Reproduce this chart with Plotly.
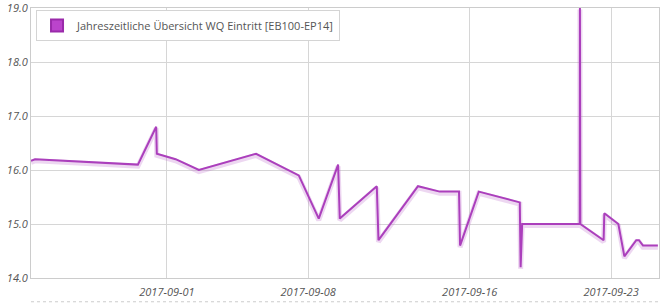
import plotly.graph_objects as go

times = [
    "2017-08-25 06:25", "2017-08-25 11:15", "2017-08-30 13:30", "2017-08-31 11:15",
    "2017-08-31 12:00", "2017-09-01 10:20", "2017-09-02 14:00", "2017-09-05 10:00",
    "2017-09-07 12:45", "2017-09-08 12:30", "2017-09-09 11:30", "2017-09-09 13:30",
    "2017-09-11 09:30", "2017-09-11 11:30", "2017-09-13 10:30", "2017-09-14 12:15",
    "2017-09-15 11:15", "2017-09-15 12:30", "2017-09-16 10:45", "2017-09-18 11:30",
    "2017-09-18 12:30", "2017-09-18 14:20", "2017-09-21 10:45", "2017-09-21 11:00",
    "2017-09-21 11:30", "2017-09-22 15:10", "2017-09-22 16:00", "2017-09-23 08:40",
    "2017-09-23 15:50", "2017-09-24 06:00", "2017-09-24 09:10", "2017-09-24 13:55",
    "2017-09-25 07:40",
]
values = [
    16.17, 16.2, 16.1, 16.8,
    16.3, 16.2, 16.0, 16.3,
    15.9, 15.1, 16.1, 15.1,
    15.7, 14.7, 15.7, 15.6,
    15.6, 14.6, 15.6, 15.4,
    14.2, 15.0, 15.0, 19.0,
    15.0, 14.7, 15.2, 15.0,
    14.4, 14.7, 14.7, 14.6,
    14.6,
]
series_name = "Jahreszeitliche Übersicht WQ Eintritt [EB100-EP14]"
tick_dates = ["2017-09-01", "2017-09-08", "2017-09-16", "2017-09-23"]
y_ticks = [14.0, 15.0, 16.0, 17.0, 18.0, 19.0]

line_color = "#AB3FBC"
font_fam = "Open Sans, DejaVu Sans, sans-serif"

fig = go.Figure()
# soft shadow below line
fig.add_trace(go.Scatter(
    x=times, y=[v - 0.03 for v in values], mode="lines",
    line=dict(color="rgba(190,110,205,0.28)", width=5),
    showlegend=False, hoverinfo="skip", cliponaxis=True,
))
fig.add_trace(go.Scatter(
    x=times, y=values, mode="lines",
    line=dict(color=line_color, width=2),
    showlegend=False, name=series_name, cliponaxis=False,
))
# legend entry with square swatch
fig.add_trace(go.Scatter(
    x=[None], y=[None], mode="markers", name=series_name,
    marker=dict(symbol="square", size=14, color="#BB44CC",
                line=dict(color="#9a2aaa", width=1)),
    showlegend=True,
))

fig.update_layout(
    width=671, height=306,
    margin=dict(l=31, r=12, t=8, b=28, autoexpand=False),
    paper_bgcolor="white", plot_bgcolor="white",
    font=dict(family=font_fam, size=11, color="#555555"),
    showlegend=True,
    legend=dict(
        x=0.008, y=0.993, xanchor="left", yanchor="top",
        bgcolor="white", bordercolor="#d4d4d4", borderwidth=1,
        font=dict(family=font_fam, size=11, color="#555555"),
        itemsizing="constant",
    ),
    xaxis=dict(
        type="date", automargin=False,
        range=["2017-08-25 06:25", "2017-09-25 09:00"],
        tickvals=tick_dates, ticktext=tick_dates,
        tickfont=dict(family=font_fam, size=11, color="#555555", style="italic"),
        showgrid=True, gridcolor="#d6d6d6", gridwidth=1,
        showline=True, linecolor="#cccccc", mirror=True,
        zeroline=False, ticks="", ticklabelstandoff=4,
        ticklabeloverflow="allow",
    ),
    yaxis=dict(
        range=[14.0, 19.0], automargin=False,
        tickvals=y_ticks, tickformat=".1f",
        tickfont=dict(family=font_fam, size=11, color="#555555", style="italic"),
        showgrid=True, gridcolor="#d6d6d6", gridwidth=1,
        showline=True, linecolor="#cccccc", mirror=True,
        zeroline=False, ticks="",
        ticklabeloverflow="allow",
    ),
    shapes=[
        dict(
            type="line", xref="paper", yref="paper",
            x0=0, x1=1, y0=-0.088, y1=-0.088,
            line=dict(color="#cccccc", width=1, dash="dot"),
        ),
    ],
)

fig.write_html("out.html")
